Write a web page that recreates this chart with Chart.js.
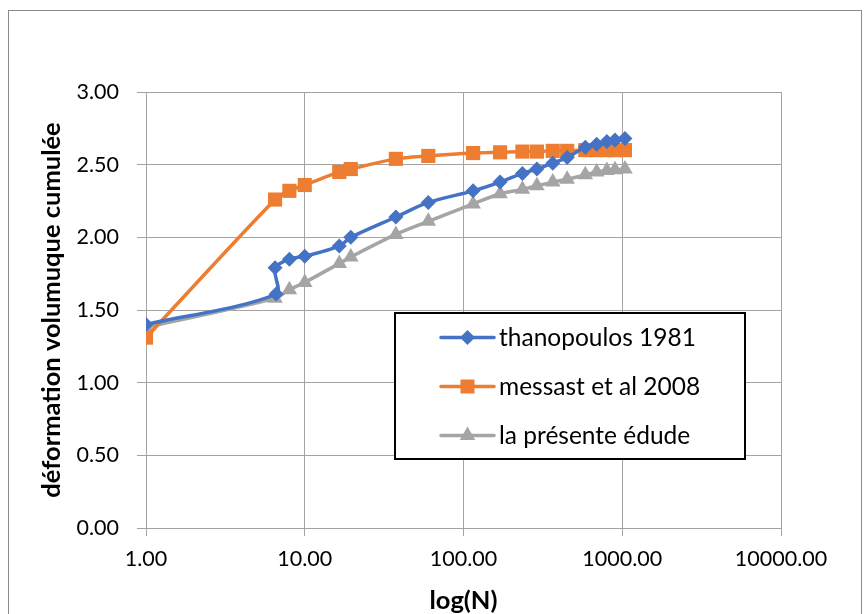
<!DOCTYPE html>
<html>
<head>
<meta charset="utf-8">
<script src="https://cdn.jsdelivr.net/npm/chart.js@4.4.1/dist/chart.umd.min.js"></script>
<style>
  html, body { margin: 0; padding: 0; background: #ffffff; }
  #wrap { width: 865px; height: 614px; position: relative; }
</style>
</head>
<body>
<div id="wrap"><canvas id="c" width="865" height="614"></canvas></div>
<script>
// ---- data ----
const cyclesThano = [1, 6.6, 6.5, 8, 10, 16.5, 19.5, 37.5, 60, 115, 170, 235, 290, 365, 450, 585, 690, 800, 900, 1040];
const thanopoulos = [1.40, 1.61, 1.79, 1.85, 1.87, 1.94, 2.00, 2.14, 2.24, 2.32, 2.38, 2.44, 2.47, 2.51, 2.55, 2.62, 2.64, 2.66, 2.67, 2.68];
const cycles = [1, 6.5, 8, 10, 16.5, 19.5, 37.5, 60, 115, 170, 235, 290, 365, 450, 585, 690, 800, 900, 1040];
const messast = [1.31, 2.26, 2.32, 2.36, 2.45, 2.47, 2.54, 2.56, 2.58, 2.585, 2.59, 2.59, 2.595, 2.595, 2.60, 2.60, 2.60, 2.60, 2.60];
const presente = [1.38, 1.58, 1.64, 1.69, 1.82, 1.865, 2.02, 2.11, 2.23, 2.30, 2.33, 2.355, 2.38, 2.40, 2.43, 2.45, 2.46, 2.465, 2.47];
const seriesNames = ['thanopoulos 1981', 'messast et al 2008', 'la présente édude'];
const xTickValues = [1, 10, 100, 1000, 10000];
const yTickValues = [0, 0.5, 1, 1.5, 2, 2.5, 3];
const xTitle = 'log(N)';
const yTitle = 'déformation volumuque cumulée';

const FONT = 'Lato, "Open Sans", sans-serif';
const GRID = '#a3a3a3';

function pts(xs, ys) { return xs.map((x, i) => ({ x: x, y: ys[i] })); }

function drawMarker(ctx, style, x, y, color) {
  ctx.save();
  ctx.fillStyle = color;
  ctx.beginPath();
  if (style === 'rectRot') {
    const r = 7.5;
    ctx.moveTo(x - r, y); ctx.lineTo(x, y - r); ctx.lineTo(x + r, y); ctx.lineTo(x, y + r);
  } else if (style === 'rect') {
    const s = 7;
    ctx.rect(x - s, y - s, 2 * s, 2 * s);
  } else {
    const r = 9;
    ctx.moveTo(x, y - r);
    ctx.lineTo(x + r * Math.sin(2 * Math.PI / 3), y - r * Math.cos(2 * Math.PI / 3));
    ctx.lineTo(x + r * Math.sin(4 * Math.PI / 3), y - r * Math.cos(4 * Math.PI / 3));
  }
  ctx.closePath();
  ctx.fill();
  ctx.restore();
}

const framePlugin = {
  id: 'frame',
  beforeDraw(chart) {
    const ctx = chart.ctx;
    ctx.save();
    ctx.fillStyle = '#ffffff';
    ctx.fillRect(0, 0, chart.width, chart.height);
    ctx.strokeStyle = '#8a8a8a';
    ctx.lineWidth = 1;
    ctx.strokeRect(8.5, 10.5, 853, 640);
    ctx.restore();
  }
};

const legendPlugin = {
  id: 'boxLegend',
  afterDraw(chart) {
    const ctx = chart.ctx;
    const ca = chart.chartArea;
    const bx = ca.left + 249, by = ca.top + 221, bw = 350, bh = 146;
    ctx.save();
    ctx.fillStyle = '#ffffff';
    ctx.fillRect(bx, by, bw, bh);
    ctx.strokeStyle = '#000000';
    ctx.lineWidth = 2;
    ctx.strokeRect(bx, by, bw, bh);
    chart.data.datasets.forEach((ds, i) => {
      const y = by + 24.5 + i * 49;
      ctx.strokeStyle = ds.borderColor;
      ctx.lineWidth = 3.5;
      ctx.lineCap = 'round';
      ctx.beginPath();
      ctx.moveTo(bx + 46, y);
      ctx.lineTo(bx + 99, y);
      ctx.stroke();
      drawMarker(ctx, ds.pointStyle, bx + 72.5, y, ds.borderColor);
      ctx.fillStyle = '#000000';
      ctx.font = '24.5px ' + FONT;
      ctx.textBaseline = 'middle';
      ctx.textAlign = 'left';
      ctx.fillText(ds.label, bx + 104, y + 1);
    });
    ctx.restore();
  }
};

const common = { borderWidth: 3.5, tension: 0.3, fill: false, pointBorderWidth: 0 };

new Chart(document.getElementById('c'), {
  type: 'line',
  data: {
    datasets: [
      Object.assign({}, common, {
        label: seriesNames[0], data: pts(cyclesThano, thanopoulos),
        borderColor: '#4472C4', backgroundColor: '#4472C4',
        pointStyle: 'rectRot', pointRadius: 7.5
      }),
      Object.assign({}, common, {
        label: seriesNames[1], data: pts(cycles, messast),
        borderColor: '#ED7D31', backgroundColor: '#ED7D31',
        pointStyle: 'rect', pointRadius: 10
      }),
      Object.assign({}, common, {
        label: seriesNames[2], data: pts(cycles, presente),
        borderColor: '#A5A5A5', backgroundColor: '#A5A5A5',
        pointStyle: 'triangle', pointRadius: 9
      })
    ]
  },
  options: {
    responsive: false,
    animation: false,
    devicePixelRatio: 1,
    layout: { padding: { top: 92, right: 84, left: 0, bottom: 0 } },
    plugins: {
      legend: { display: false },
      tooltip: { enabled: false }
    },
    scales: {
      x: {
        type: 'logarithmic',
        min: 1, max: 10000,
        afterFit(scale) { scale.height = 86; },
        afterBuildTicks(scale) { scale.ticks = xTickValues.map(v => ({ value: v, major: true })); },
        ticks: {
          autoSkip: false, maxRotation: 0, padding: 10,
          color: '#000000',
          font: { family: FONT, size: 21.5 },
          callback: (v) => Number(v).toFixed(2)
        },
        grid: { color: GRID, lineWidth: 1, tickLength: 8, drawTicks: true },
        border: { color: GRID, width: 1 },
        title: {
          display: true, text: xTitle, color: '#000000',
          font: { family: FONT, size: 25.5, weight: 'bold' },
          padding: { top: 0, bottom: -2 }
        }
      },
      y: {
        type: 'linear',
        min: 0, max: 3,
        afterFit(scale) { scale.width = 146; },
        afterBuildTicks(scale) { scale.ticks = yTickValues.map(v => ({ value: v })); },
        ticks: {
          padding: 18, color: '#000000',
          font: { family: FONT, size: 21.5 },
          callback: (v) => Number(v).toFixed(2)
        },
        grid: { color: GRID, lineWidth: 1, tickLength: 9, drawTicks: true },
        border: { color: GRID, width: 1 },
        title: {
          display: true, text: yTitle, color: '#000000',
          font: { family: FONT, size: 25.5, weight: 'bold' },
          padding: { top: 36, bottom: 0 }
        }
      }
    }
  },
  plugins: [framePlugin, legendPlugin]
});
</script>
</body>
</html>
